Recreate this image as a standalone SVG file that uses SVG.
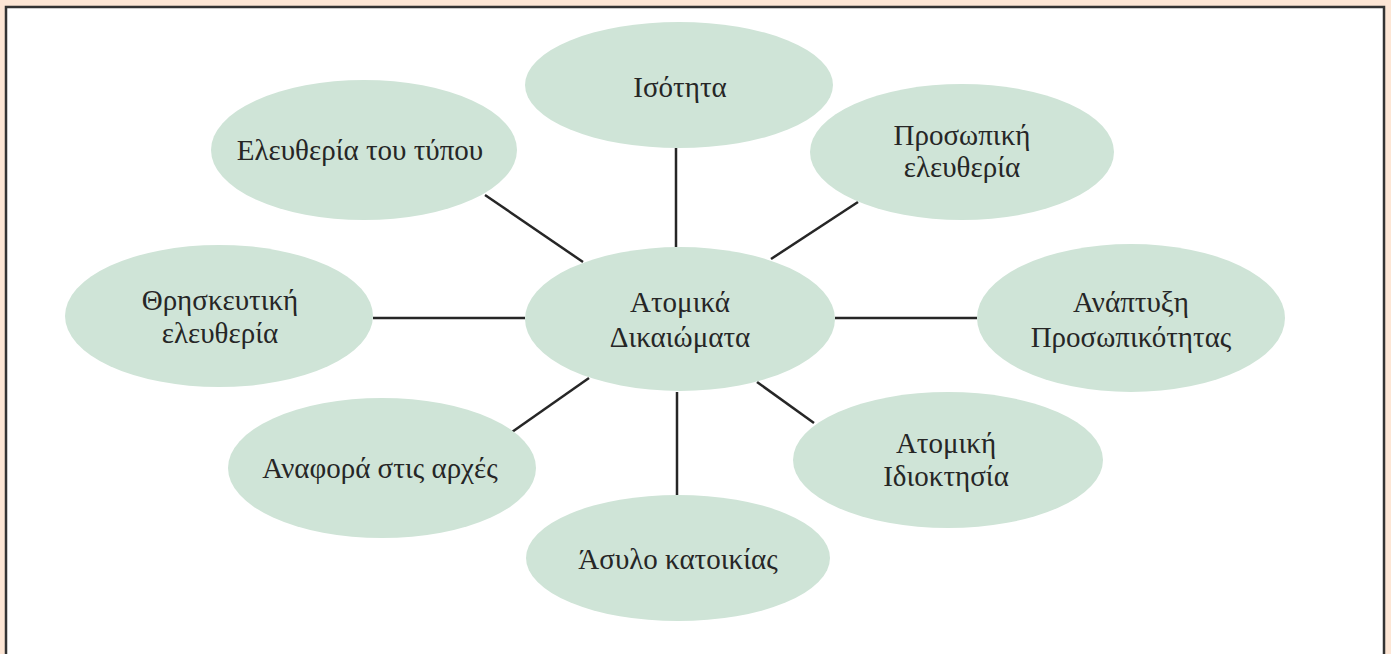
<svg xmlns="http://www.w3.org/2000/svg" width="1391" height="654" viewBox="0 0 1391 654">
<style>
.node ellipse{fill:#cfe4d7;}
.node text{font-family:"Liberation Serif","DejaVu Serif",serif;font-size:29px;fill:#262626;text-anchor:middle;}
#connectors line{stroke:#262626;stroke-width:2.5;}
</style>
<rect x="0" y="0" width="1391" height="654" fill="#fde6d5"/>
<rect x="6" y="7" width="1378" height="660" fill="#ffffff" stroke="#333333" stroke-width="2.5"/>
<g id="connectors">
<line x1="676" y1="148" x2="676" y2="247"/>
<line x1="677" y1="392" x2="677" y2="495"/>
<line x1="373" y1="318" x2="525" y2="318"/>
<line x1="835" y1="318" x2="977" y2="318"/>
<line x1="485" y1="195" x2="583" y2="262"/>
<line x1="858" y1="202" x2="771" y2="259"/>
<line x1="512" y1="432" x2="589" y2="378"/>
<line x1="757" y1="382" x2="814" y2="423"/>
</g>
<g id="n-isotita" class="node"><ellipse cx="679" cy="85" rx="154" ry="63"/><text x="680" y="97">Ισότητα</text></g>
<g id="n-typos" class="node"><ellipse cx="364" cy="150" rx="153" ry="70"/><text x="360" y="160">Ελευθερία του τύπου</text></g>
<g id="n-prosopiki" class="node"><ellipse cx="962" cy="152" rx="152" ry="68"/><text x="962" y="145">Προσωπική</text><text x="962" y="177">ελευθερία</text></g>
<g id="n-thriskeftiki" class="node"><ellipse cx="219" cy="316" rx="154" ry="71"/><text x="220" y="310">Θρησκευτική</text><text x="220" y="343">ελευθερία</text></g>
<g id="n-center" class="node"><ellipse cx="680" cy="319" rx="155" ry="72"/><text x="680" y="312">Ατομικά</text><text x="680" y="347">Δικαιώματα</text></g>
<g id="n-anaptyxi" class="node"><ellipse cx="1131" cy="318" rx="154" ry="74"/><text x="1131" y="312">Ανάπτυξη</text><text x="1131" y="347">Προσωπικότητας</text></g>
<g id="n-idioktisia" class="node"><ellipse cx="948" cy="460" rx="155" ry="68"/><text x="946" y="453">Ατομική</text><text x="946" y="486">Ιδιοκτησία</text></g>
<g id="n-anafora" class="node"><ellipse cx="382" cy="468" rx="154" ry="70"/><text x="380" y="478">Αναφορά στις αρχές</text></g>
<g id="n-asylo" class="node"><ellipse cx="678" cy="558" rx="152" ry="63"/><text x="678" y="569">Άσυλο κατοικίας</text></g>
</svg>
